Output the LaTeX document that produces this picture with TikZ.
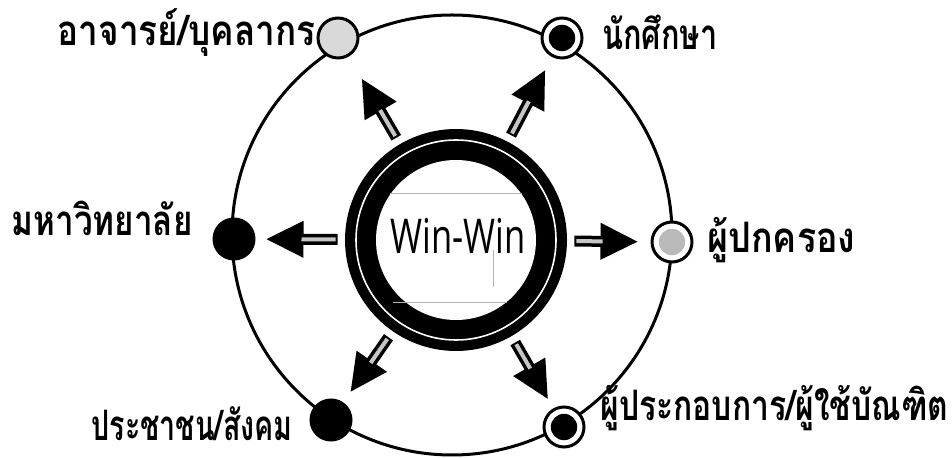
\documentclass[tikz,border=0pt]{standalone}
\usepackage{fontspec}
\newfontfamily\thaifont[Script=Thai]{Loma}
\newfontfamily\winfont{Open Sans}
\usetikzlibrary{arrows.meta}
\begin{document}
\begin{tikzpicture}[x=0.5pt,y=-0.5pt,
  lbl/.style={font=\thaifont\bfseries\fontsize{21}{24}\selectfont, inner sep=0pt},
  dot/.style={circle, draw=black, line width=1.5pt, minimum size=20pt, inner sep=0pt},
  ringdot/.style={dot, fill=white, path picture={\fill[#1] (path picture bounding box.center) circle[radius=6.6pt];}},
  bigarrow/.style={line width=5.5pt, -{Triangle[length=19pt,width=17pt]}},
  shaftfill/.style={gray!45, line width=2pt}]
\useasboundingbox (0,0) rectangle (952,458);
% outer circle
\draw[line width=1.5pt] (452,235) circle[radius=110pt];
% centre ring
\node[circle, fill=black, minimum size=111pt, inner sep=0pt] (ring) at (456,240) {};
\draw[white, line width=0.8pt] (ring.center) circle[radius=50pt];
\fill[white] (ring.center) circle[radius=40pt];
\draw[gray!60, line width=0.4pt] (390,193) -- (522,193);
\draw[gray!60, line width=0.4pt] (393,302) -- (507,302);
\draw[gray!60, line width=0.4pt] (493,250) -- (493,287);
\node[font=\winfont\fontsize{24}{24}\selectfont, inner sep=0pt] (win) at (458,236) {\scalebox{0.72}[1]{Win-Win}};
% outer nodes
\node[dot, fill=gray!30] (tl) at (338,38) {};
\node[ringdot=black] (tr) at (562,38) {};
\node[dot, fill=black] (l) at (234,239) {};
\node[ringdot=gray!55] (r) at (672,242) {};
\node[dot, fill=black] (bl) at (331,420) {};
\node[ringdot=black] (br) at (564,427) {};
% labels
\node[lbl, anchor=base east] (tlt) at (316,46) {\resizebox{129pt}{\height}{อาจารย์/บุคลากร}};
\node[lbl, anchor=base west] (trt) at (602,50) {\resizebox{57.5pt}{\height}{นักศึกษา}};
\node[lbl, anchor=base east] (lt) at (193,236) {\resizebox{90.5pt}{\height}{มหาวิทยาลัย}};
\node[lbl, anchor=base west] (rt) at (707,253) {\resizebox{74pt}{\height}{ผู้ปกครอง}};
\node[lbl, anchor=base east] (blt) at (293,441) {\resizebox{100.5pt}{\height}{ประชาชน/สังคม}};
\node[lbl, anchor=base west] (brt) at (600,421) {\resizebox{174pt}{\height}{ผู้ประกอบการ/ผู้ใช้บัณฑิต}};
% arrows
\foreach \n/\e/\g in {tl/12.5pt/31pt, tr/7pt/25pt, l/5pt/23pt, r/6pt/24pt, bl/6pt/24pt, br/5pt/23pt}{
  \draw[bigarrow, shorten <=3.5pt, shorten >=\e] (ring) -- (\n);
  \draw[shaftfill, shorten <=4.5pt, shorten >=\g] (ring) -- (\n);
}
\end{tikzpicture}
\end{document}
